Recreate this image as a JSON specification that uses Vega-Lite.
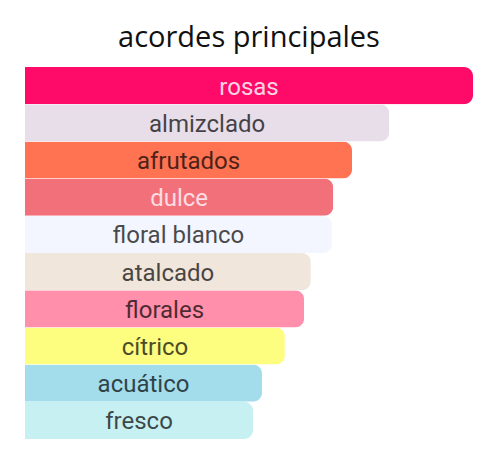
{
  "$schema": "https://vega.github.io/schema/vega-lite/v6.json",
  "autosize": "none",
  "width": 448,
  "height": 372,
  "padding": {"left": 25, "top": 67, "right": 27, "bottom": 23},
  "background": "white",
  "title": {"text": "acordes principales", "font": "Open Sans", "fontSize": 29, "fontWeight": "normal", "color": "#111", "anchor": "middle", "offset": 14},
  "config": {"view": {"stroke": null}},
  "data": {"values": [
    {"name": "rosas", "value": 100},
    {"name": "almizclado", "value": 81.3},
    {"name": "afrutados", "value": 73.0},
    {"name": "dulce", "value": 68.8},
    {"name": "floral blanco", "value": 68.5},
    {"name": "atalcado", "value": 63.8},
    {"name": "florales", "value": 62.3},
    {"name": "cítrico", "value": 58.0},
    {"name": "acuático", "value": 52.9},
    {"name": "fresco", "value": 50.9}
  ]},
  "transform": [{"calculate": "datum.value / 2", "as": "mid"}],
  "encoding": {
    "y": {"field": "name", "type": "nominal", "sort": null, "axis": null, "scale": {"paddingInner": 0, "paddingOuter": 0}}
  },
  "layer": [
    {
      "mark": {"type": "bar", "cornerRadiusEnd": 9, "orient": "horizontal"},
      "encoding": {
        "x": {"field": "value", "type": "quantitative", "axis": null, "scale": {"domain": [0, 100], "nice": false, "zero": true}},
        "color": {"field": "name", "type": "nominal", "legend": null, "scale": {
          "domain": ["rosas", "almizclado", "afrutados", "dulce", "floral blanco", "atalcado", "florales", "cítrico", "acuático", "fresco"],
          "range": ["#FE0A68", "#E8DEEA", "#FF7352", "#F2707A", "#F3F6FE", "#F0E6DC", "#FF8FAA", "#FDFD80", "#A3DDEC", "#C7F0F3"]
        }}
      }
    },
    {
      "mark": {"type": "text", "font": "Roboto", "fontSize": 24, "align": "center", "baseline": "middle", "dy": 2},
      "encoding": {
        "x": {"field": "mid", "type": "quantitative"},
        "text": {"field": "name"},
        "color": {"condition": {"test": "datum.name === 'rosas' || datum.name === 'dulce'", "value": "#FFE8F0"}, "value": "#000000"},
        "opacity": {"condition": {"test": "datum.name === 'rosas' || datum.name === 'dulce'", "value": 0.9}, "value": 0.7}
      }
    }
  ]
}
